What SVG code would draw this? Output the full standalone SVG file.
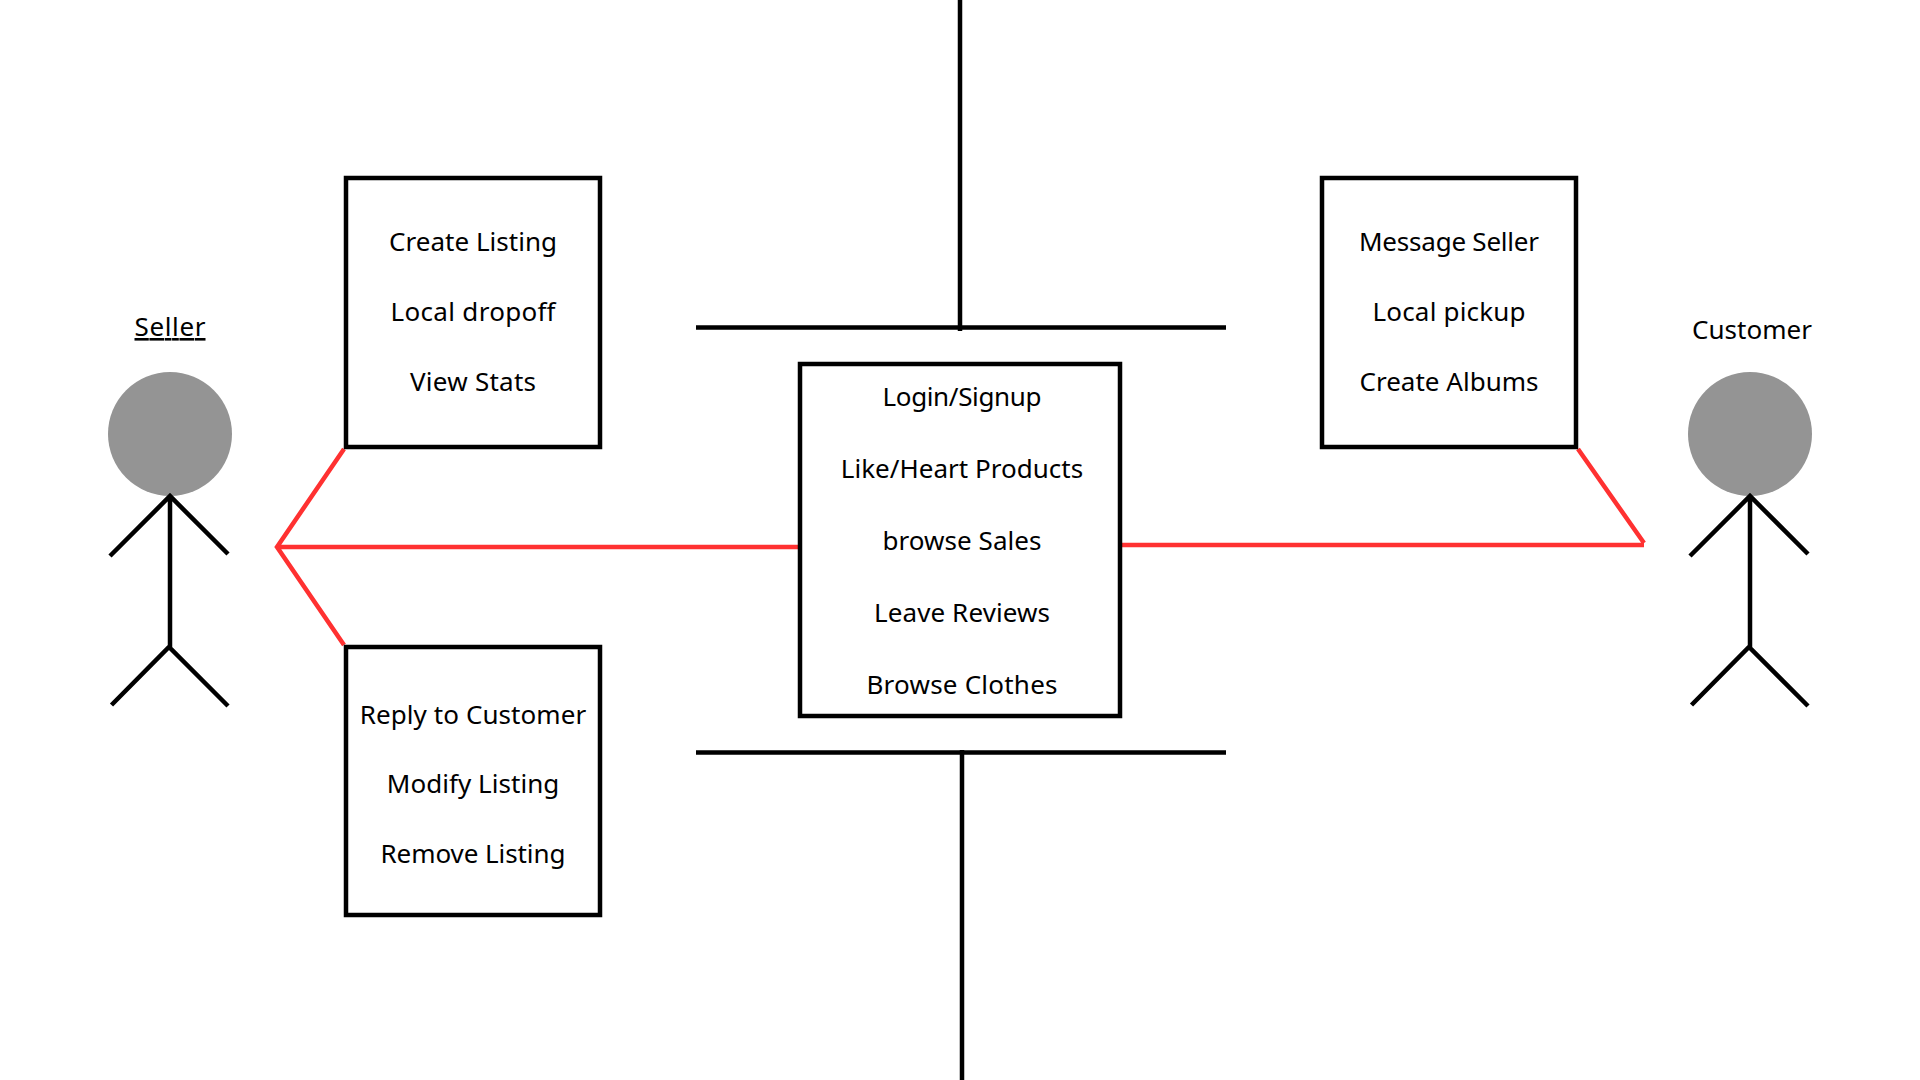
<svg xmlns="http://www.w3.org/2000/svg" width="1920" height="1080" viewBox="0 0 1920 1080">
<style>
.box{fill:#fff;stroke:#000;stroke-width:4.5}
.k{fill:none;stroke:#000;stroke-width:4.5}
.r{fill:none;stroke:#ff3131;stroke-width:4.5}
.head{fill:#949494}
text{font-family:"Noto Sans","Open Sans",sans-serif;font-size:26px;fill:#000;text-anchor:middle}
</style>
<rect width="1920" height="1080" fill="#fff"/>
<g id="connectors">
<path class="k" d="M960 0V331M696 327.5H1226M696 752.5H1226M962 750V1080"/>
<path class="r" d="M344 449L277 547L344 645M277 547H800"/>
<path class="r" d="M1120 545H1644M1578 449L1644 543"/>
</g>
<g id="seller">
<text x="170" y="336" text-decoration="underline" textLength="71">Seller</text>
<circle class="head" cx="170" cy="434" r="62"/>
<path class="k" d="M170 496V648M110 556L170 496L228 554M111.500 705L169 647L228 706"/>
</g>
<g id="customer">
<text x="1752" y="339" textLength="120">Customer</text>
<circle class="head" cx="1750" cy="434" r="62"/>
<path class="k" d="M1750 496V648M1690 556L1750 496L1808 554M1691.500 705L1749 647L1808 706"/>
</g>
<g id="seller-top">
<rect class="box" x="346" y="178" width="254" height="269"/>
<text x="473" y="251" textLength="168">Create Listing</text>
<text x="473" y="321" textLength="165">Local dropoff</text>
<text x="473" y="391" textLength="126">View Stats</text>
</g>
<g id="seller-bottom">
<rect class="box" x="346" y="647" width="254" height="268"/>
<text x="473" y="723.500" textLength="226.500">Reply to Customer</text>
<text x="473" y="793" textLength="172.500">Modify Listing</text>
<text x="473" y="863" textLength="185">Remove Listing</text>
</g>
<g id="customer-top">
<rect class="box" x="1322" y="178" width="254" height="269"/>
<text x="1449" y="251" textLength="180">Message Seller</text>
<text x="1449" y="321" textLength="153">Local pickup</text>
<text x="1449" y="391" textLength="179">Create Albums</text>
</g>
<g id="shared">
<rect class="box" x="800" y="364" width="320" height="352"/>
<text x="962" y="406" textLength="159">Login/Signup</text>
<text x="962" y="478" textLength="242.500">Like/Heart Products</text>
<text x="962" y="550" textLength="159">browse Sales</text>
<text x="962" y="622" textLength="176">Leave Reviews</text>
<text x="962" y="694" textLength="191">Browse Clothes</text>
</g>
</svg>
